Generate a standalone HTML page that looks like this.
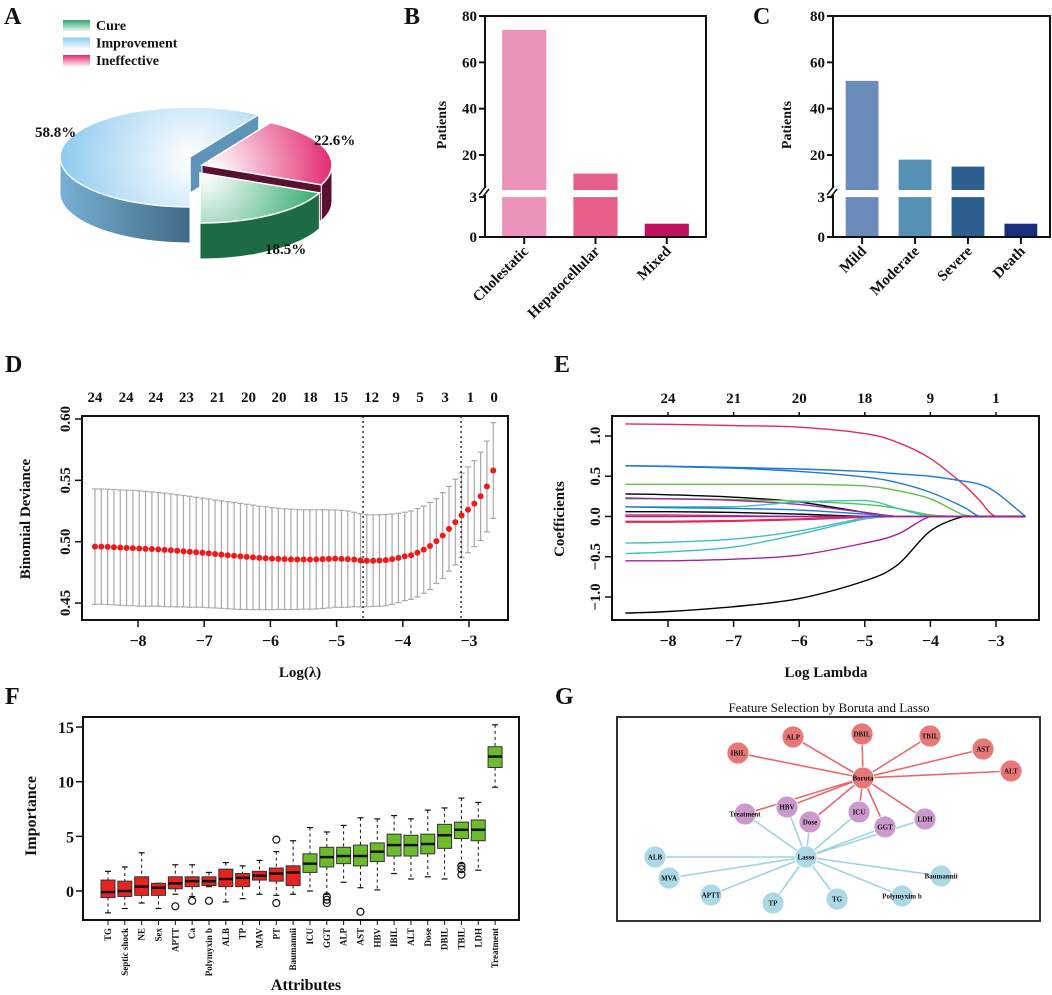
<!DOCTYPE html>
<html><head><meta charset="utf-8">
<style>
html,body{margin:0;padding:0;background:#fff;}
svg{display:block;font-family:"Liberation Serif",serif;font-weight:bold;}
</style></head>
<body>
<svg id="fig" width="1052" height="995" viewBox="0 0 1052 995" xmlns="http://www.w3.org/2000/svg">
<defs>
<radialGradient id="gImp" gradientUnits="userSpaceOnUse" cx="190" cy="160" r="140"><stop offset="0" stop-color="#ffffff"/><stop offset="1" stop-color="#86c6ee"/></radialGradient>
<radialGradient id="gIne" gradientUnits="userSpaceOnUse" cx="215" cy="170" r="120"><stop offset="0" stop-color="#ffffff"/><stop offset="1" stop-color="#e2266f"/></radialGradient>
<radialGradient id="gCur" gradientUnits="userSpaceOnUse" cx="205" cy="175" r="120"><stop offset="0" stop-color="#ffffff"/><stop offset="1" stop-color="#2fa96a"/></radialGradient>
<linearGradient id="sImp" x1="0" x2="1" y1="0" y2="0"><stop offset="0" stop-color="#78b0d4"/><stop offset="1" stop-color="#3f6a85"/></linearGradient>
<linearGradient id="lgCure" x1="0" x2="0" y1="0" y2="1"><stop offset="0" stop-color="#2aa66a"/><stop offset="1" stop-color="#e8f6ee"/></linearGradient>
<linearGradient id="lgImp" x1="0" x2="0" y1="0" y2="1"><stop offset="0" stop-color="#8ccbf0"/><stop offset="1" stop-color="#f0f8fe"/></linearGradient>
<linearGradient id="lgIne" x1="0" x2="0" y1="0" y2="1"><stop offset="0" stop-color="#e2266f"/><stop offset="1" stop-color="#fde8f0"/></linearGradient>
</defs>
<g id="pA"></g>
<g id="pB"></g>
<g id="pC"></g>
<g id="pD"></g>
<g id="pE"></g>
<g id="pF"></g>
<g id="pG"></g>
</svg>
<script>
// ---------- DATA ----------
const pieLabels = ["Improvement","Ineffective","Cure"];
const pieValues = [58.8, 22.6, 18.5];

const bCats = ["Cholestatic","Hepatocellular","Mixed"];
const bValues = [74, 12, 1];
const cCats = ["Mild","Moderate","Severe","Death"];
const cValues = [52, 18, 15, 1];
const barTicksUpper = [80, 60, 40, 20];
const barTicksLower = [3, 0];

const dMean = [.496,.496,.4958,.4955,.4952,.495,.4948,.4945,.4942,.494,
.4937,.4933,.493,.4926,.4922,.4918,.4914,.491,.4905,.49,
.4895,.489,.4885,.488,.4876,.4872,.4868,.4865,.4862,.486,
.4858,.4856,.4855,.4855,.4855,.4856,.4858,.486,.4862,.486,
.4858,.4855,.4848,.4845,.4845,.4847,.485,.4858,.4868,.488,
.489,.491,.4935,.4965,.5005,.505,.5105,.516,.5215,.526,
.531,.537,.545,.558];
const dUpper = [.543,.543,.5428,.5425,.5422,.542,.5418,.5415,.541,.5405,
.540,.5395,.539,.5383,.5376,.537,.5362,.5355,.5348,.534,
.5333,.5326,.532,.5312,.5305,.5298,.529,.5284,.5278,.5272,
.5268,.5265,.5262,.526,.526,.526,.526,.526,.5258,.5255,
.525,.524,.5228,.522,.5218,.522,.5222,.5226,.5232,.524,
.525,.527,.529,.532,.535,.540,.545,.551,.556,.561,
.566,.573,.582,.597];
const dLambdaStart = -8.65, dLambdaStep = 0.0955;
const dTopLabels = ["24","24","24","23","21","20","20","18","15","12","9","5","3","1","0"];
const dTopLambda = [-8.65,-8.18,-7.73,-7.27,-6.80,-6.33,-5.87,-5.40,-4.94,-4.47,-4.10,-3.74,-3.36,-2.98,-2.62];
const dVLines = [-4.6, -3.12];
const dYTicks = [0.45, 0.50, 0.55, 0.60];
const dXTicks = [-8,-7,-6,-5,-4,-3];

const eGrid = [-8.65,-8,-7,-6,-5,-4.5,-4,-3.5,-3.25,-3,-2.55];
const eColors = ["#df2b5b","#1f7ad6","#1f7ad6","#5cbf4a","#000000","#5cbf4a","#a0219f","#3fbfc0","#1f7ad6","#000000","#df2b5b","#df2b5b","#df2b5b","#3fbfc0","#3fbfc0","#a0219f","#000000","#a0219f"];
const eSeries = [
[1.15,1.145,1.13,1.11,1.03,0.92,0.72,0.40,0.20,0,0],
[0.63,0.625,0.61,0.59,0.56,0.53,0.50,0.44,0.40,0.30,0],
[0.63,0.62,0.60,0.56,0.49,0.42,0.30,0.12,0,0,0],
[0.40,0.40,0.40,0.40,0.38,0.32,0.22,0.02,0,0,0],
[0.28,0.27,0.24,0.18,0.05,0,0,0,0,0,0],
[0.22,0.22,0.21,0.19,0.15,0.10,0.02,0,0,0,0],
[0.23,0.22,0.20,0.15,0.05,0,0,0,0,0,0],
[0.12,0.12,0.12,0.18,0.20,0.10,0,0,0,0,0],
[0.12,0.11,0.10,0.08,0.03,0,0,0,0,0,0],
[0.06,0.06,0.05,0.03,0,0,0,0,0,0,0],
[0.02,0.02,0.01,0,0,0,0,0,0,0,0],
[-0.06,-0.06,-0.05,-0.03,0,0,0,0,0,0,0],
[-0.07,-0.07,-0.06,-0.04,-0.01,0,0,0,0,0,0],
[-0.33,-0.32,-0.28,-0.18,-0.02,0,0,0,0,0,0],
[-0.46,-0.44,-0.38,-0.22,-0.03,0,0,0,0,0,0],
[-0.55,-0.55,-0.53,-0.48,-0.33,-0.22,0,0,0,0,0],
[-1.20,-1.18,-1.12,-1.02,-0.80,-0.60,-0.18,0,0,0,0],
[0,0,0,0,0,0,0,0,0,0,0]
];
const eTopLabels = ["24","21","20","18","9","1"];
const eTopLambda = [-8,-7,-6,-5,-4,-3];
const eYTicks = [-1.0,-0.5,0.0,0.5,1.0];
const eXTicks = [-8,-7,-6,-5,-4,-3];

const fCats = ["TG","Septic shock","NE","Sex","APTT","Ca","Polymyxin b","ALB","TP","MAV","PT","Baumannii","ICU","GGT","ALP","AST","HBV","IBIL","ALT","Dose","DBIL","TBIL","LDH","Treatment"];
const fMin = [-2,-1.6,-1.1,-1.6,-0.3,-0.5,0.4,-1,-0.7,-0.3,-0.4,-0.3,0,-0.3,0.8,0.3,0.1,1.6,1.1,1.3,1.1,2.5,1.9,9.5];
const fQ1 = [-0.6,-0.5,-0.4,-0.4,0.2,0.4,0.5,0.4,0.4,1.0,0.9,0.5,1.7,2.2,2.5,2.3,2.7,3.2,3.2,3.4,3.9,4.8,4.6,11.3];
const fMed = [-0.1,0,0.4,0.3,0.7,0.9,0.9,1.1,1.2,1.4,1.6,1.7,2.5,3.1,3.2,3.2,3.6,4.2,4.2,4.3,5.1,5.6,5.6,12.3];
const fQ3 = [1.0,0.9,1.3,0.7,1.3,1.3,1.3,2.0,1.6,1.8,2.1,2.3,3.4,4.0,4.0,4.2,4.4,5.2,5.1,5.2,6.1,6.3,6.5,13.2];
const fMax = [1.8,2.2,3.5,0.7,2.4,2.4,1.7,2.6,2.3,2.8,3.6,4.6,5.8,5.4,6.0,6.7,6.6,6.9,6.6,7.4,7.6,8.5,8.1,15.2];
const fOutliers = [[],[],[],[],[-1.4],[-0.9],[-0.9],[],[],[],[4.7,-1.1],[],[],[-0.5,-0.8,-1.1],[],[-1.9],[],[],[],[],[],[1.5,2.0,2.3],[],[]];
const fGreen = [false,false,false,false,false,false,false,false,false,false,false,false,true,true,true,true,true,true,true,true,true,true,true,true];
const fYTicks = [0,5,10,15];

const gNodes = ["Boruta","IBIL","ALP","DBIL","TBIL","AST","ALT","Treatment","HBV","Dose","ICU","GGT","LDH","Lasso","ALB","MVA","APTT","TP","TG","Polymyxim b","Baumannii"];
const gGroup = ["b","b","b","b","b","b","b","m","m","m","m","m","m","l","l","l","l","l","l","l","l"];
const gX = [863,738,793,862,930,983,1011,745,787,810,859,885,925,806,655,669,711,773,837,902,941];
const gY = [778,753,737,734,736,749,771,814,807,822,812,827,819,857,857,878,895,903,899,896,876];
const gBorutaEdges = ["IBIL","ALP","DBIL","TBIL","AST","ALT","Treatment","HBV","Dose","ICU","GGT","LDH"];
const gLassoEdges = ["Treatment","HBV","Dose","ICU","GGT","LDH","ALB","MVA","APTT","TP","TG","Polymyxim b","Baumannii"];

// ---------- helpers ----------
const NS = "http://www.w3.org/2000/svg";
function mk(parent, tag, attrs, name, text){
  const el = document.createElementNS(NS, tag);
  for (const k in attrs) el.setAttribute(k, attrs[k]);
  
  
  if (text !== undefined) el.textContent = text;
  parent.appendChild(el);
  return el;
}
function txt(parent, x, y, s, size, name, extra){
  const a = Object.assign({x:x, y:y, 'font-size':size, fill:'#111'}, extra||{});
  return mk(parent, 'text', a, name, s);
}
function rotTxt(parent, x, y, s, size, name, anchor, rot){
  return mk(parent,'text',{x:x,y:y,'font-size':size,fill:'#111','text-anchor':anchor||'middle',transform:`rotate(${rot===undefined?-90:rot} ${x} ${y})`},name,s);
}

// ---------- Panel A ----------
(function(){
  const g = document.getElementById('pA');
  txt(g, 4, 24, "A", 24, 'panel-label-a');
  const lg = [["Cure","url(#lgCure)"],["Improvement","url(#lgImp)"],["Ineffective","url(#lgIne)"]];
  lg.forEach((d,i)=>{
    mk(g,'rect',{x:63,y:20+i*17.5,width:27,height:11,fill:d[1]},'legend-swatch-'+d[0].toLowerCase());
    txt(g,96,30+i*17.5,d[0],14,'legend-label-'+d[0].toLowerCase());
  });
  const rx=130, ry=50, depth=36;
  const tops = ["url(#gImp)","url(#gIne)","url(#gCur)"];
  const sides = ["url(#sImp)","#5a1030","#1d6b45"];
  const walls = ["#5f93b8","#5a1030",null];
  const offs = [[0,0],[12,8],[10,16]];
  const total = pieValues.reduce((a,b)=>a+b,0);
  let starts=[], ends=[];
  let a0 = 90;
  pieValues.forEach((v,i)=>{ const span=v/total*360; starts.push(a0); ends.push(a0+span); a0+=span; });
  function P(cx,cy,t){ const r=t*Math.PI/180; return [cx+rx*Math.cos(r), cy+ry*Math.sin(r)]; }
  [0,1,2].forEach(i=>{
    const cx=190+offs[i][0], cy=157+offs[i][1];
    const s=starts[i], e=ends[i];
    const sg = mk(g,'g',{},'pie-slice-'+pieLabels[i].toLowerCase());
    if (walls[i]) [s,e].forEach(t=>{
      const p=P(cx,cy,t);
      mk(sg,'path',{d:`M${cx},${cy} L${p[0]},${p[1]} L${p[0]},${p[1]+depth} L${cx},${cy+depth} Z`,fill:walls[i],stroke:'#fff','stroke-width':1},'pie-wall');
    });
    const segs=[];
    for (let base=-360; base<=720; base+=360){
      const lo=Math.max(s,base), hi=Math.min(e,base+180);
      if (hi>lo) segs.push([lo,hi]);
    }
    segs.forEach(sgm=>{
      const p1=P(cx,cy,sgm[0]), p2=P(cx,cy,sgm[1]);
      const large=(sgm[1]-sgm[0])>180?1:0;
      mk(sg,'path',{d:`M${p1[0]},${p1[1]} A${rx},${ry} 0 ${large} 1 ${p2[0]},${p2[1]} L${p2[0]},${p2[1]+depth} A${rx},${ry} 0 ${large} 0 ${p1[0]},${p1[1]+depth} Z`,fill:sides[i],stroke:'#fff','stroke-width':1},'pie-side');
    });
    const p1=P(cx,cy,s), p2=P(cx,cy,e);
    const large=(e-s)>180?1:0;
    mk(sg,'path',{d:`M${cx},${cy} L${p1[0]},${p1[1]} A${rx},${ry} 0 ${large} 1 ${p2[0]},${p2[1]} Z`,fill:tops[i],stroke:'#fff','stroke-width':1.5},'pie-top');
  });
  txt(g,35,137,pieValues[0].toFixed(1)+"%",15,'pct-improvement');
  txt(g,314,145,pieValues[1].toFixed(1)+"%",15,'pct-ineffective');
  txt(g,265,254,pieValues[2].toFixed(1)+"%",15,'pct-cure');
})();

// ---------- Panels B & C ----------
function brokenBar(gid, left, right, cats, vals, colors, letter, lx, labOff){
  const g=document.getElementById(gid);
  const yTop=16, yBot=237;
  const yUp = v=>yTop+(80-v)*2.317;
  const yLo = v=>yBot-v*13.3;
  txt(g,lx,24,letter,24,'panel-label-'+letter.toLowerCase());
  const n=cats.length, w=(right-left);
  const slot = w/(n+0.1);
  const bw = slot*0.62;
  cats.forEach((c,i)=>{
    const cx = left + slot*(i+0.55);
    const v = vals[i];
    if (v<=3){
      mk(g,'rect',{x:cx-bw/2,y:yLo(v),width:bw,height:yBot-yLo(v),fill:colors[i]},'bar-'+c.toLowerCase());
    } else {
      mk(g,'rect',{x:cx-bw/2,y:yLo(3),width:bw,height:yBot-yLo(3),fill:colors[i]},'bar-lower-'+c.toLowerCase());
      mk(g,'rect',{x:cx-bw/2,y:yUp(v),width:bw,height:Math.max(0,190-yUp(v)),fill:colors[i]},'bar-upper-'+c.toLowerCase());
    }
    mk(g,'line',{x1:cx,x2:cx,y1:yBot,y2:yBot+7,stroke:'#111','stroke-width':2},'x-tick');
    const tx=cx+5, ty=yBot+15;
    mk(g,'text',{x:tx,y:ty,'font-size':15,fill:'#111','text-anchor':'end',transform:`rotate(-45 ${tx} ${ty})`},'x-label-'+c.toLowerCase(),c);
  });
  mk(g,'rect',{x:left,y:yTop,width:w,height:yBot-yTop,fill:'none',stroke:'#111','stroke-width':2},'plot-frame');
  barTicksUpper.forEach(t=>{
    mk(g,'line',{x1:left-6,x2:left,y1:yUp(t),y2:yUp(t),stroke:'#111','stroke-width':2},'y-tick');
    txt(g,left-8,yUp(t)+5,String(t),15,'y-tick-label',{'text-anchor':'end'});
  });
  barTicksLower.forEach(t=>{
    mk(g,'line',{x1:left-6,x2:left,y1:yLo(t),y2:yLo(t),stroke:'#111','stroke-width':2},'y-tick');
    txt(g,left-8,yLo(t)+5,String(t),15,'y-tick-label',{'text-anchor':'end'});
  });
  mk(g,'rect',{x:left-3,y:188,width:6,height:7,fill:'#fff'},'axis-break-gap');
  mk(g,'line',{x1:left-6,y1:195,x2:left+1,y2:186,stroke:'#111','stroke-width':1.5},'axis-break');
  mk(g,'line',{x1:left-3,y1:198,x2:left+4,y2:189,stroke:'#111','stroke-width':1.5},'axis-break');
  rotTxt(g,labOff,125,"Patients",14,'y-axis-title');
}
brokenBar('pB',485,706,bCats,bValues,["#eb93bb","#e6608a","#c1135d"],"B",404,446);
brokenBar('pC',833,1050,cCats,cValues,["#6b8bbb","#5690b2","#2d5f8f","#1b2e7e"],"C",753,791);

// ---------- Panel D ----------
(function(){
  const g=document.getElementById('pD');
  const L=82,R=508,T=416,B=620;
  const X=v=>138+(v+8)*66.2;
  const Y=v=>419+(0.60-v)*1227;
  txt(g,5,372,"D",24,'panel-label-d');
  mk(g,'rect',{x:L,y:T,width:R-L,height:B-T,fill:'none',stroke:'#111','stroke-width':2},'plot-frame');
  dMean.forEach((m,i)=>{
    const lam=dLambdaStart+i*dLambdaStep, x=X(lam);
    const up=dUpper[i], lo=2*m-up;
    mk(g,'line',{x1:x,x2:x,y1:Y(up),y2:Y(lo),stroke:'#a9a9a9','stroke-width':1.2},'error-bar');
    mk(g,'line',{x1:x-3,x2:x+3,y1:Y(up),y2:Y(up),stroke:'#a9a9a9','stroke-width':1.2},'error-cap');
    mk(g,'line',{x1:x-3,x2:x+3,y1:Y(lo),y2:Y(lo),stroke:'#a9a9a9','stroke-width':1.2},'error-cap');
  });
  dVLines.forEach(v=>mk(g,'line',{x1:X(v),x2:X(v),y1:T,y2:B,stroke:'#111','stroke-width':1.3,'stroke-dasharray':'2,3'},'lambda-line'));
  dMean.forEach((m,i)=>{
    const lam=dLambdaStart+i*dLambdaStep;
    mk(g,'circle',{cx:X(lam),cy:Y(m),r:3,fill:'#f01818'},'deviance-point');
  });
  dYTicks.forEach(t=>{
    mk(g,'line',{x1:L-7,x2:L,y1:Y(t),y2:Y(t),stroke:'#111','stroke-width':1.5},'y-tick');
    rotTxt(g,L-12,Y(t),t.toFixed(2),15,'y-tick-label');
  });
  dXTicks.forEach(t=>{
    mk(g,'line',{x1:X(t),x2:X(t),y1:B,y2:B+7,stroke:'#111','stroke-width':1.5},'x-tick');
    txt(g,X(t),B+26,"\u2212"+Math.abs(t),16,'x-tick-label',{'text-anchor':'middle'});
  });
  dTopLabels.forEach((s,i)=>txt(g,X(dTopLambda[i]),402,s,15,'top-count-label',{'text-anchor':'middle'}));
  rotTxt(g,30,519,"Binomial Deviance",15,'y-axis-title');
  txt(g,300,677,"Log(\u03bb)",15,'x-axis-title',{'text-anchor':'middle'});
})();

// ---------- Panel E ----------
(function(){
  const g=document.getElementById('pE');
  const L=612,R=1039,T=416,B=620;
  const X=v=>668+(v+8)*65.6;
  const Y=v=>516.5-v*80.5;
  txt(g,554,372,"E",24,'panel-label-e');
  function smooth(pts){
    let d=`M${pts[0][0]},${pts[0][1]}`;
    for(let i=0;i<pts.length-1;i++){
      const p0=pts[Math.max(0,i-1)],p1=pts[i],p2=pts[i+1],p3=pts[Math.min(pts.length-1,i+2)];
      let c1y=p1[1]+(p2[1]-p0[1])/6, c2y=p2[1]-(p3[1]-p1[1])/6;
      const lo=Math.min(p1[1],p2[1]), hi=Math.max(p1[1],p2[1]);
      c1y=Math.min(hi,Math.max(lo,c1y)); c2y=Math.min(hi,Math.max(lo,c2y));
      d+=` C${p1[0]+(p2[0]-p0[0])/6},${c1y} ${p2[0]-(p3[0]-p1[0])/6},${c2y} ${p2[0]},${p2[1]}`;
    }
    return d;
  }
  eSeries.forEach((s,k)=>{
    const pts=s.map((v,i)=>[X(eGrid[i]),Y(v)]);
    mk(g,'path',{d:smooth(pts),fill:'none',stroke:eColors[k],'stroke-width':1.4},'coef-path-'+k);
  });
  mk(g,'rect',{x:L,y:T,width:R-L,height:B-T,fill:'none',stroke:'#111','stroke-width':2},'plot-frame');
  eYTicks.forEach(t=>{
    mk(g,'line',{x1:L-7,x2:L,y1:Y(t),y2:Y(t),stroke:'#111','stroke-width':1.5},'y-tick');
    rotTxt(g,L-12,Y(t),(t<0?"\u2212":"")+Math.abs(t).toFixed(1),15,'y-tick-label');
  });
  eXTicks.forEach(t=>{
    mk(g,'line',{x1:X(t),x2:X(t),y1:B,y2:B+7,stroke:'#111','stroke-width':1.5},'x-tick');
    txt(g,X(t),B+26,"\u2212"+Math.abs(t),16,'x-tick-label',{'text-anchor':'middle'});
  });
  eTopLabels.forEach((s,i)=>{
    const x=X(eTopLambda[i]);
    mk(g,'line',{x1:x,x2:x,y1:T-4,y2:T,stroke:'#111','stroke-width':1.5},'top-tick');
    txt(g,x,403,s,15,'top-count-label',{'text-anchor':'middle'});
  });
  rotTxt(g,564,519,"Coefficients",15,'y-axis-title');
  txt(g,826,677,"Log Lambda",15,'x-axis-title',{'text-anchor':'middle'});
})();

// ---------- Panel F ----------
(function(){
  const g=document.getElementById('pF');
  const L=83,R=519,T=717,B=920;
  const Y=v=>891-v*10.93;
  const X=i=>108+i*16.83;
  txt(g,5,704,"F",24,'panel-label-f');
  mk(g,'rect',{x:L,y:T,width:R-L,height:B-T,fill:'none',stroke:'#111','stroke-width':2},'plot-frame');
  const bw=14;
  fCats.forEach((c,i)=>{
    const x=X(i), col=fGreen[i]?'#6cbb2c':'#e8231f';
    mk(g,'line',{x1:x,x2:x,y1:Y(fMax[i]),y2:Y(fQ3[i]),stroke:'#111','stroke-width':1,'stroke-dasharray':'3,3'},'whisker');
    mk(g,'line',{x1:x,x2:x,y1:Y(fQ1[i]),y2:Y(fMin[i]),stroke:'#111','stroke-width':1,'stroke-dasharray':'3,3'},'whisker');
    mk(g,'line',{x1:x-3,x2:x+3,y1:Y(fMax[i]),y2:Y(fMax[i]),stroke:'#111','stroke-width':1.2},'whisker-cap');
    mk(g,'line',{x1:x-3,x2:x+3,y1:Y(fMin[i]),y2:Y(fMin[i]),stroke:'#111','stroke-width':1.2},'whisker-cap');
    mk(g,'rect',{x:x-bw/2,y:Y(fQ3[i]),width:bw,height:Y(fQ1[i])-Y(fQ3[i]),fill:col,stroke:'#333','stroke-width':1},'box-'+c.toLowerCase().replace(/ /g,'-'));
    mk(g,'line',{x1:x-bw/2,x2:x+bw/2,y1:Y(fMed[i]),y2:Y(fMed[i]),stroke:'#111','stroke-width':2.5},'median');
    fOutliers[i].forEach(o=>mk(g,'circle',{cx:x,cy:Y(o),r:3.5,fill:'none',stroke:'#111','stroke-width':1.2},'outlier'));
    mk(g,'line',{x1:x,x2:x,y1:B,y2:B+5,stroke:'#111','stroke-width':1},'x-tick');
    rotTxt(g,x+3,B+8,c,9,'x-label-'+c.toLowerCase().replace(/ /g,'-'),'end');
  });
  fYTicks.forEach(t=>{
    mk(g,'line',{x1:L-7,x2:L,y1:Y(t),y2:Y(t),stroke:'#111','stroke-width':1.5},'y-tick');
    txt(g,L-9,Y(t)+6,String(t),16,'y-tick-label',{'text-anchor':'end'});
  });
  rotTxt(g,36,816,"Importance",16,'y-axis-title');
  txt(g,306,990,"Attributes",16,'x-axis-title',{'text-anchor':'middle'});
})();

// ---------- Panel G ----------
(function(){
  const g=document.getElementById('pG');
  txt(g,555,704,"G",24,'panel-label-g');
  mk(g,'text',{x:829,y:712,'font-size':13,fill:'#111','font-weight':'normal','text-anchor':'middle'},'network-title',"Feature Selection by Boruta and Lasso");
  mk(g,'rect',{x:617,y:717,width:423,height:204,fill:'none',stroke:'#333','stroke-width':2},'network-frame');
  const idx=n=>gNodes.indexOf(n);
  const hub1=idx("Boruta"), hub2=idx("Lasso");
  gLassoEdges.forEach(n=>{const j=idx(n);mk(g,'line',{x1:gX[hub2],y1:gY[hub2],x2:gX[j],y2:gY[j],stroke:'#9fd3e0','stroke-width':1.6},'edge-lasso-'+n);});
  gBorutaEdges.forEach(n=>{const j=idx(n);mk(g,'line',{x1:gX[hub1],y1:gY[hub1],x2:gX[j],y2:gY[j],stroke:'#e8686e','stroke-width':1.6},'edge-boruta-'+n);});
  const colors={b:'#e87878',m:'#cc99cc',l:'#add8e6'};
  gNodes.forEach((n,i)=>{
    mk(g,'circle',{cx:gX[i],cy:gY[i],r:11,fill:colors[gGroup[i]],stroke:'#fff','stroke-width':0.8},'node-'+n.toLowerCase().replace(/ /g,'-'));
  });
  gNodes.forEach((n,i)=>{
    txt(g,gX[i],gY[i]+2.5,n,7,'node-label-'+n.toLowerCase().replace(/ /g,'-'),{'text-anchor':'middle'});
  });
})();
</script>
</body></html>
